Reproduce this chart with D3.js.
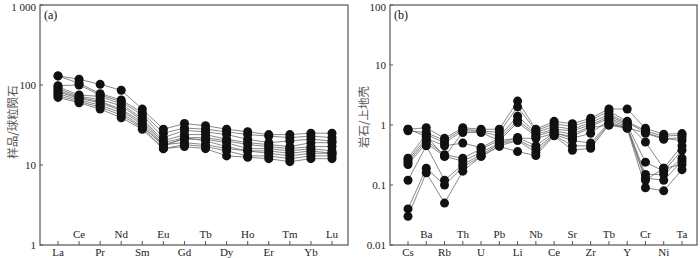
<!DOCTYPE html>
<html>
<head>
<meta charset="utf-8">
<script src="https://cdn.jsdelivr.net/npm/d3@7"></script>
<style>
  body { margin: 0; background: #fff; }
  svg text { font-family: "Liberation Serif", "DejaVu Serif", serif; }
</style>
</head>
<body>
<div class="chart"></div>
<script>
// REE: sample / chondrite
const reeElements = ["La", "Ce", "Pr", "Nd", "Sm", "Eu", "Gd", "Tb", "Dy", "Ho", "Er", "Tm", "Yb", "Lu"];
const reeSamples = [
  [130, 118, 102, 86, 50, 28, 33, 31, 28, 26, 24, 24, 25, 25],
  [130, 105, 78, 65, 45, 25, 29, 28, 26, 24, 23, 22, 23, 22],
  [98, 100, 75, 62, 42, 22, 27, 26, 24, 21, 19, 20, 21, 20],
  [95, 75, 72, 58, 38, 20, 24, 24, 21, 19, 18, 17, 19, 19],
  [90, 72, 66, 55, 36, 19, 22, 22, 20, 18, 17, 16, 17, 17],
  [85, 70, 62, 50, 34, 18, 21, 21, 19, 16, 16, 15, 16, 15],
  [82, 68, 60, 48, 32, 17, 22, 20, 17, 15, 15, 14, 15, 14],
  [78, 65, 56, 45, 30, 18, 19, 18, 16, 15, 14, 13, 14, 14],
  [74, 62, 53, 42, 29, 16, 18, 17, 15, 13, 13, 12, 13, 13],
  [70, 60, 50, 39, 28, 16, 17, 16, 13, 12.5, 12, 11, 12, 12]
];
const reeTicks = [1, 10, 100, 1000];
const reeTickLabels = ["1", "10", "100", "1 000"];

// trace elements: rock / upper crust
const traceElements = ["Cs", "Ba", "Rb", "Th", "U", "Pb", "Li", "Nb", "Ce", "Sr", "Zr", "Tb", "Y", "Cr", "Ni", "Ta"];
const traceSamples = [
  [0.85, 0.9, 0.6, 0.9, 0.85, 0.85, 2.5, 0.85, 1.15, 1.05, 1.3, 1.85, 1.85, 0.88, 0.7, 0.72],
  [0.8, 0.75, 0.55, 0.85, 0.8, 0.75, 2.0, 0.8, 1.05, 0.95, 1.2, 1.7, 1.15, 0.8, 0.65, 0.68],
  [0.28, 0.7, 0.5, 0.8, 0.78, 0.65, 1.4, 0.75, 0.95, 0.85, 1.1, 1.5, 1.1, 0.75, 0.6, 0.55],
  [0.26, 0.6, 0.45, 0.5, 0.42, 0.6, 1.2, 0.7, 0.85, 0.8, 1.0, 1.4, 1.05, 0.52, 0.19, 0.45],
  [0.24, 0.55, 0.32, 0.28, 0.4, 0.55, 1.1, 0.65, 0.8, 0.7, 0.95, 1.3, 1.0, 0.24, 0.17, 0.38],
  [0.22, 0.5, 0.3, 0.25, 0.35, 0.5, 0.62, 0.45, 0.75, 0.6, 0.73, 1.2, 0.95, 0.15, 0.15, 0.28],
  [0.12, 0.45, 0.12, 0.22, 0.32, 0.48, 0.57, 0.4, 0.7, 0.55, 0.5, 1.1, 0.92, 0.13, 0.12, 0.25],
  [0.04, 0.19, 0.1, 0.2, 0.3, 0.45, 0.55, 0.35, 0.68, 0.45, 0.45, 1.05, 0.9, 0.12, 0.19, 0.22],
  [0.03, 0.16, 0.05, 0.17, 0.3, 0.44, 0.36, 0.31, 0.66, 0.38, 0.41, 1.0, 0.88, 0.09, 0.08, 0.18],
  [0.85, 0.65, 0.3, 0.75, 0.75, 0.55, 0.6, 0.6, 0.72, 0.65, 0.9, 1.0, 0.9, 0.73, 0.58, 0.62]
];
const traceTicks = [0.01, 0.1, 1, 10, 100];
const traceTickLabels = ["0.01", "0.1", "1", "10", "100"];

const svg = d3.select(".chart")
  .append("svg")
  .attr("width", 700)
  .attr("height", 258);

function panel(opts) {
  const { left, right, top, bottom, pad } = opts;

  const x = d3.scalePoint()
    .domain(opts.elements)
    .range([left + pad[0], right - pad[1]]);

  const y = d3.scaleLog()
    .domain(opts.domain)
    .range([bottom, top]);

  const g = svg.append("g");

  // frame
  g.append("rect")
    .attr("x", left)
    .attr("y", top)
    .attr("width", right - left)
    .attr("height", bottom - top)
    .attr("fill", "none")
    .attr("stroke", "#555")
    .attr("stroke-width", 1.2);

  // y ticks (inward) + labels
  opts.ticks.forEach((t, i) => {
    g.append("line")
      .attr("x1", left).attr("x2", left + 3)
      .attr("y1", y(t)).attr("y2", y(t))
      .attr("stroke", "#555");
    g.append("text")
      .attr("x", left - 4)
      .attr("y", Math.max(y(t), 7)) // keep the top label inside the window
      .attr("dy", "0.32em")
      .attr("text-anchor", "end")
      .attr("font-size", 11)
      .attr("fill", "#222")
      .text(opts.tickLabels[i]);
  });

  // x ticks (inward), labels alternating above / below the axis
  opts.elements.forEach((e, i) => {
    g.append("line")
      .attr("x1", x(e)).attr("x2", x(e))
      .attr("y1", bottom).attr("y2", bottom - 4)
      .attr("stroke", "#555");
    g.append("text")
      .attr("x", x(e))
      .attr("y", i % 2 === 0 ? bottom + 11 : bottom - 7)
      .attr("text-anchor", "middle")
      .attr("font-size", 11)
      .attr("fill", "#222")
      .text(e);
  });

  // panel tag
  g.append("text")
    .attr("x", left + 4)
    .attr("y", top + 14)
    .attr("font-size", 12)
    .attr("fill", "#111")
    .text(opts.tag);

  // y axis title
  g.append("text")
    .attr("transform", "translate(" + opts.titleX + "," + opts.titleY + ") rotate(-90)")
    .attr("text-anchor", "middle")
    .attr("font-size", 11.5)
    .attr("fill", "#555")
    .style("font-family", "'Noto Sans CJK SC', sans-serif")
    .text(opts.title);

  const line = d3.line()
    .x((d, i) => x(opts.elements[i]))
    .y(d => y(d));

  // lines
  g.selectAll(".series")
    .data(opts.samples)
    .join("path")
    .attr("class", "series")
    .attr("d", line)
    .attr("fill", "none")
    .attr("stroke", "#6a6a6a")
    .attr("stroke-width", 0.8);

  // dots
  opts.samples.forEach(s => {
    g.selectAll(null)
      .data(s)
      .join("circle")
      .attr("cx", (d, i) => x(opts.elements[i]))
      .attr("cy", d => y(d))
      .attr("r", 4.5)
      .attr("fill", "#111");
  });
}

panel({
  left: 40, right: 348, top: 5, bottom: 245, pad: [18, 16],
  elements: reeElements, samples: reeSamples,
  domain: [1, 1000], ticks: reeTicks, tickLabels: reeTickLabels,
  tag: "(a)", title: "样品/球粒陨石", titleX: 17, titleY: 122
});

panel({
  left: 390, right: 697, top: 5, bottom: 245, pad: [18, 15],
  elements: traceElements, samples: traceSamples,
  domain: [0.01, 100], ticks: traceTicks, tickLabels: traceTickLabels,
  tag: "(b)", title: "岩石/上地壳", titleX: 368, titleY: 117
});
</script>
</body>
</html>
